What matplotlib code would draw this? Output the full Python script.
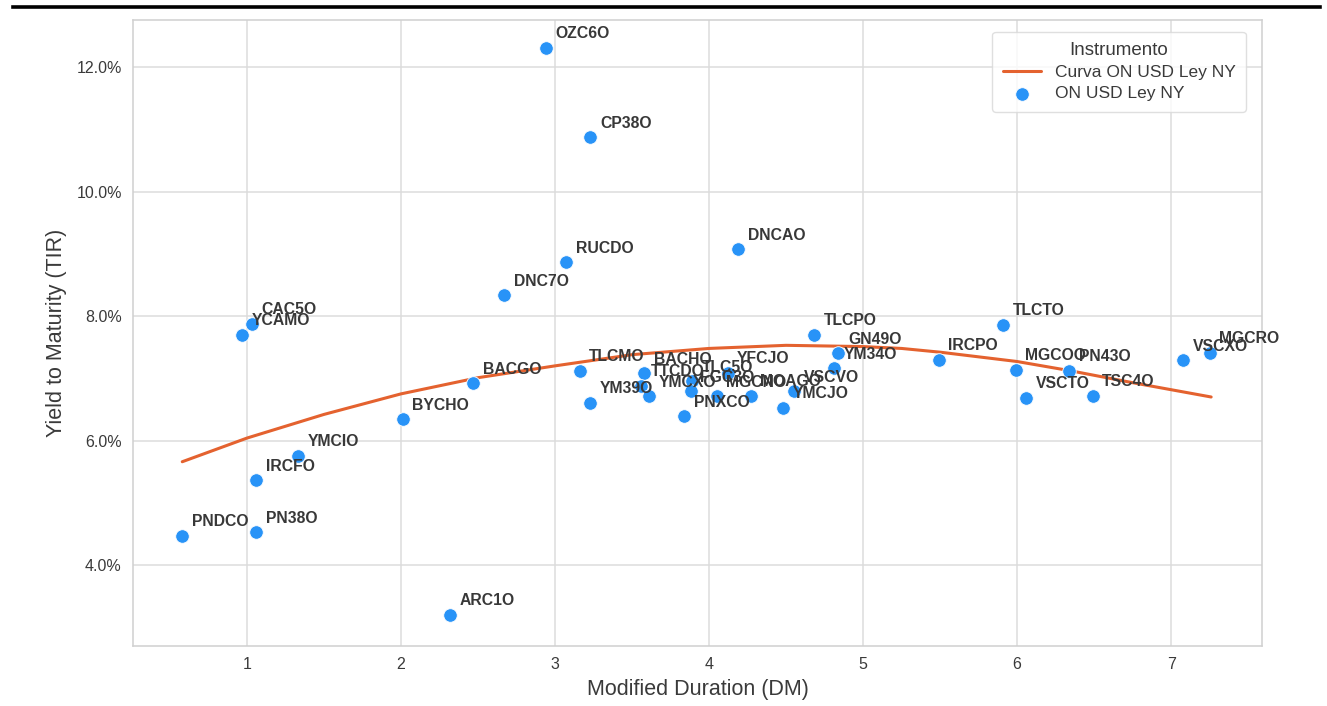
import matplotlib
matplotlib.use("Agg")
import matplotlib.pyplot as plt
from matplotlib.lines import Line2D
from matplotlib.ticker import FuncFormatter

plt.rcParams['font.family'] = ['Liberation Sans', 'DejaVu Sans']

# ---- data ----
tickers = ["PNDCO", "PN38O", "IRCFO", "YMCIO", "CAC5O", "YCAMO", "BYCHO", "BACGO",
           "DNC7O", "ARC1O", "OZC6O", "RUCDO", "CP38O", "TLCMO", "YM39O", "BACHO",
           "TTCDO", "YMCXO", "TLC5O", "FGC3O", "PNXCO", "YFCJO", "MGCNO", "MOAGO",
           "YMCJO", "VSCVO", "YM34O", "GN49O", "TLCPO", "DNCAO", "IRCPO", "TLCTO",
           "MGCOO", "VSCTO", "PN43O", "TSC4O", "VSCXO", "MGCRO"]
duration = [0.58, 1.06, 1.06, 1.33, 1.03, 0.97, 2.01, 2.47,
            2.67, 2.32, 2.94, 3.07, 3.23, 3.16, 3.23, 3.58,
            3.56, 3.61, 3.89, 3.88, 3.84, 4.12, 4.05, 4.27,
            4.48, 4.55, 4.81, 4.84, 4.68, 4.19, 5.49, 5.91,
            5.99, 6.06, 6.34, 6.49, 7.08, 7.25]
ytm = [4.47, 4.53, 5.36, 5.76, 7.88, 7.70, 6.34, 6.92,
       8.34, 3.20, 12.31, 8.87, 10.87, 7.12, 6.61, 7.08,
       6.88, 6.71, 6.95, 6.79, 6.39, 7.09, 6.71, 6.72,
       6.53, 6.79, 7.16, 7.40, 7.70, 9.07, 7.30, 7.86,
       7.14, 6.69, 7.12, 6.72, 7.29, 7.41]

curve_x = [0.58, 1.0, 1.5, 2.0, 2.5, 3.0, 3.5, 4.0, 4.5, 5.0, 5.25, 5.5, 6.0, 6.35, 6.75, 7.26]
curve_y = [5.66, 6.04, 6.42, 6.75, 7.01, 7.20, 7.38, 7.48, 7.53, 7.51, 7.48, 7.42, 7.27, 7.12, 6.93, 6.70]

xticks = [1, 2, 3, 4, 5, 6, 7]
yticks = [4, 6, 8, 10, 12]

# ---- figure ----
fig = plt.figure(figsize=(13.27, 7.06), dpi=100)
ax = fig.add_axes([0.1002, 0.085, 0.8508, 0.887])
ax.set_facecolor('white')

grid_c = '#dcdcdc'
ax.grid(True, color=grid_c, linewidth=1.1)
ax.set_axisbelow(True)
for s in ax.spines.values():
    s.set_color('#d0d0d0')
    s.set_linewidth(1.1)

line_c = '#e4622f'
dot_c = '#2893f7'
ax.plot(curve_x, curve_y, color=line_c, linewidth=2.2, label='Curva ON USD Ley NY',
        zorder=3, solid_joinstyle='round', solid_capstyle='round')
ax.scatter(duration, ytm, s=95, color=dot_c, edgecolor='white', linewidth=0.6,
           label='ON USD Ley NY', zorder=4)

for t, x, y in zip(tickers, duration, ytm):
    ax.annotate(t, (x, y), xytext=(7, 10), textcoords='offset points',
                ha='left', va='center', fontsize=11.3, fontweight='bold',
                color='#383838', zorder=5)

ax.set_xlim(0.26, 7.59)
ax.set_ylim(2.70, 12.76)
ax.set_xticks(xticks)
ax.set_yticks(yticks)
ax.yaxis.set_major_formatter(FuncFormatter(lambda v, p: f"{v:.1f}%"))
ax.tick_params(axis='both', length=0, labelsize=11.5, colors='#3a3a3a', pad=8)

ax.set_xlabel('Modified Duration (DM)', fontsize=15.5, color='#3a3a3a', labelpad=5)
ax.set_ylabel('Yield to Maturity (TIR)', fontsize=15.5, color='#3a3a3a', labelpad=7)

leg = ax.legend(title='Instrumento', loc='upper right', fontsize=12.5, title_fontsize=13.5,
                frameon=True, borderpad=0.6, handlelength=2.2, labelspacing=0.35,
                bbox_to_anchor=(0.9935, 0.995))
leg.get_frame().set_edgecolor('#d8d8d8')
leg.get_frame().set_linewidth(1.0)
for txt in leg.get_texts():
    txt.set_color('#3a3a3a')
leg.get_title().set_color('#3a3a3a')

# dark rule across the top of the screenshot
fig.add_artist(Line2D([0.01, 0.995], [0.9905, 0.9905], color='black', linewidth=2.6,
                      transform=fig.transFigure))

fig.savefig('out.png', dpi=100, facecolor='white')
